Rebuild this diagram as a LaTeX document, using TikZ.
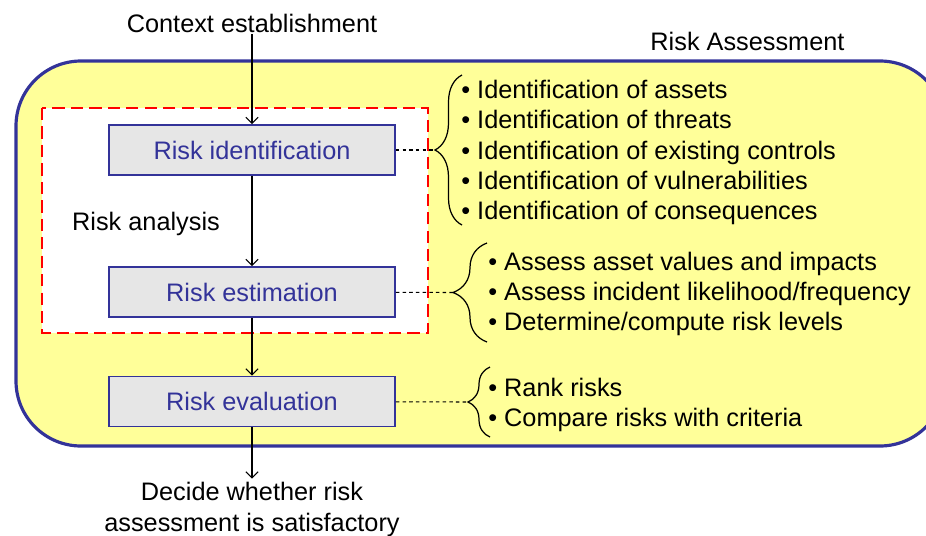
\documentclass[tikz,border=0pt]{standalone}
\usepackage{fontspec}
\setmainfont{Liberation Sans}
\usetikzlibrary{arrows.meta,decorations.pathreplacing}
\definecolor{raBlue}{RGB}{51,51,153}
\definecolor{raYellow}{RGB}{255,255,153}
\definecolor{raGray}{RGB}{230,230,230}

\begin{document}
\begin{tikzpicture}[>={Straight Barb[length=3.5pt,width=7pt]},
		every node/.style={font=\fontsize{14.4}{17.2}\selectfont},
		stage/.style={draw=raBlue, line width=1pt, fill=raGray, text=raBlue, minimum width=5.72cm, minimum height=1cm, inner sep=0pt},
		itemlist/.style={anchor=west, align=left, inner sep=0pt},
		link/.style={dash pattern=on 2pt off 1.8pt, line width=0.6pt},
		curly/.style={line width=0.7pt, decorate, decoration={brace, amplitude=#1}}]
			\clip (0,0) rectangle (18.52,-10.70);
			
			%% Risk Assessment frame
			\draw [line width=1.8pt, draw=raBlue, fill=raYellow, rounded corners=1.3cm] (0.32,-1.22) rectangle (18.9,-8.92);
			\node (raname) at (14.95,-0.82) {Risk Assessment};
			
			%% Risk analysis frame
			\draw [line width=1.4pt, draw=red, fill=white, dash pattern=on 7pt off 3.5pt] (0.84,-2.16) rectangle (8.56,-6.66);
			\node (ananame) at (2.92,-4.48) {Risk analysis};
			
			%% main flow
			\node[inner sep=1pt] (context) at (5.04,-0.46) {Context establishment};
			\node[stage] (ident) at (5.04,-3.0) {Risk identification};
			\node[stage] (estim) at (5.04,-5.84) {Risk estimation};
			\node[stage] (evalu) at (5.04,-8.03) {Risk evaluation};
			\node[align=center, inner sep=2pt] (decide) at (5.04,-10.19) {Decide whether risk\\assessment is satisfactory};
			
			\draw [->, line width=0.6pt] (context) -- (ident);
			\draw [->, line width=0.6pt] (ident) -- (estim);
			\draw [->, line width=0.6pt] (estim) -- (evalu);
			\draw [->, line width=0.6pt] (evalu) -- (decide);
			
			%% braces and their lists
			\draw [curly=0.54cm] (9.24,-4.5) -- (9.24,-1.5);
			\coordinate (identtip) at (8.70,-3.0);
			\node[itemlist] (identlist) at (9.22,-3.05) {• Identification of assets\\• Identification of threats\\• Identification of existing controls\\• Identification of vulnerabilities\\• Identification of consequences};
			
			\draw [curly=0.68cm] (9.74,-6.84) -- (9.74,-4.86);
			\coordinate (estimtip) at (9.06,-5.85);
			\node[itemlist] (estimlist) at (9.76,-5.88) {• Assess asset values and impacts\\• Assess incident likelihood/frequency\\• Determine/compute risk levels};
			
			\draw [curly=0.44cm] (9.80,-8.74) -- (9.80,-7.34);
			\coordinate (evalutip) at (9.36,-8.04);
			\node[itemlist] (evalulist) at (9.76,-8.10) {• Rank risks\\• Compare risks with criteria};
			
			\draw [link] (ident) -- (identtip);
			\draw [link] (estim) -- (estimtip);
			\draw [link] (evalu) -- (evalutip);
			
		\end{tikzpicture}
\end{document}
